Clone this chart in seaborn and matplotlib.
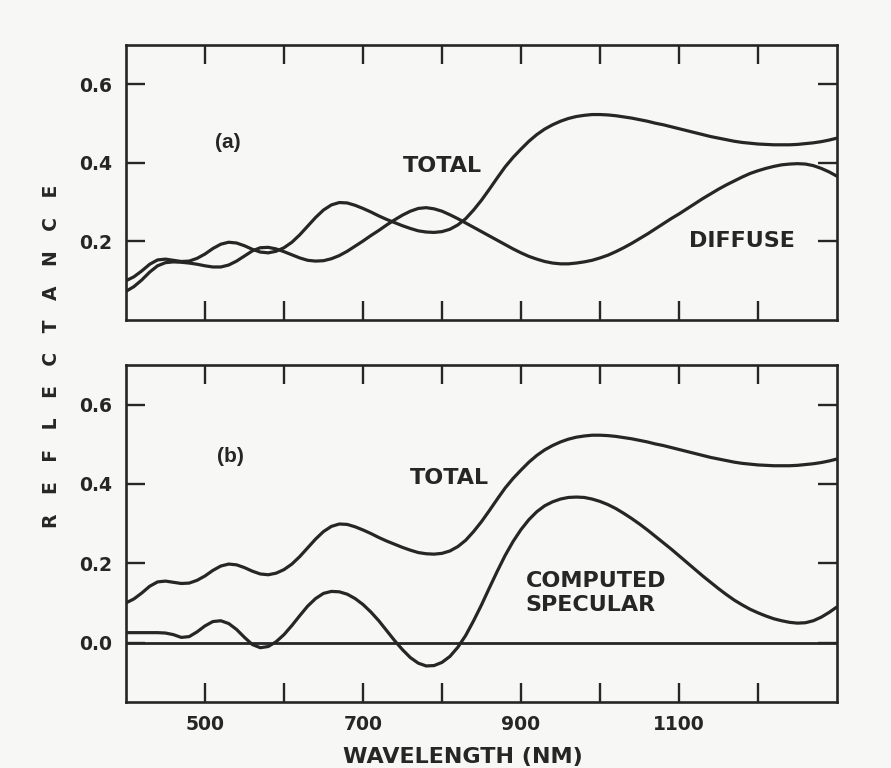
import numpy as np
import pandas as pd
import matplotlib
matplotlib.use("Agg")
import matplotlib.pyplot as plt
import seaborn as sns

# Wavelength grid (nm), 10 nm steps
wavelength = list(range(400, 1301, 10))

total = [0.100, 0.110, 0.125, 0.142, 0.153, 0.155, 0.152, 0.149, 0.150, 0.157,
         0.168, 0.182, 0.193, 0.198, 0.196, 0.189, 0.180, 0.173, 0.171, 0.175,
         0.184, 0.198, 0.217, 0.239, 0.261, 0.280, 0.293, 0.299, 0.298, 0.292,
         0.284, 0.275, 0.265, 0.256, 0.248, 0.240, 0.233, 0.227, 0.224, 0.223,
         0.225, 0.231, 0.242, 0.258, 0.280, 0.305, 0.333, 0.362, 0.390, 0.414,
         0.435, 0.455, 0.472, 0.486, 0.497, 0.506, 0.513, 0.518, 0.521, 0.523,
         0.523, 0.522, 0.520, 0.517, 0.514, 0.510, 0.506, 0.501, 0.497, 0.492,
         0.487, 0.482, 0.477, 0.472, 0.467, 0.463, 0.459, 0.455, 0.452, 0.450,
         0.448, 0.447, 0.446, 0.446, 0.446, 0.447, 0.449, 0.451, 0.454, 0.458,
         0.463]

diffuse = [0.073, 0.085, 0.102, 0.122, 0.138, 0.146, 0.148, 0.147, 0.145, 0.142,
           0.138, 0.135, 0.135, 0.140, 0.150, 0.163, 0.176, 0.184, 0.185, 0.181,
           0.174, 0.166, 0.158, 0.152, 0.150, 0.151, 0.156, 0.164, 0.175, 0.188,
           0.201, 0.215, 0.228, 0.242, 0.255, 0.267, 0.277, 0.284, 0.286, 0.283,
           0.277, 0.268, 0.258, 0.247, 0.236, 0.225, 0.214, 0.203, 0.192, 0.181,
           0.171, 0.162, 0.155, 0.149, 0.145, 0.143, 0.143, 0.145, 0.148, 0.152,
           0.158, 0.165, 0.174, 0.184, 0.195, 0.207, 0.219, 0.232, 0.245, 0.258,
           0.270, 0.283, 0.296, 0.309, 0.321, 0.333, 0.344, 0.354, 0.364, 0.373,
           0.380, 0.386, 0.391, 0.395, 0.397, 0.398, 0.397, 0.393, 0.386, 0.377,
           0.366]

specular = [0.025, 0.025, 0.025, 0.025, 0.025, 0.024, 0.020, 0.013, 0.015, 0.027,
            0.042, 0.053, 0.055, 0.048, 0.033, 0.013, -0.005, -0.013, -0.010, 0.002,
            0.020, 0.043, 0.068, 0.092, 0.111, 0.124, 0.129, 0.128, 0.122, 0.111,
            0.096, 0.077, 0.055, 0.030, 0.005, -0.018, -0.038, -0.052, -0.059, -0.058,
            -0.050, -0.035, -0.012, 0.018, 0.055, 0.095, 0.138, 0.180, 0.220, 0.255,
            0.285, 0.310, 0.330, 0.345, 0.355, 0.362, 0.366, 0.367, 0.366, 0.362,
            0.356, 0.348, 0.338, 0.326, 0.313, 0.299, 0.284, 0.268, 0.252, 0.236,
            0.219, 0.202, 0.185, 0.168, 0.152, 0.136, 0.121, 0.107, 0.095, 0.084,
            0.075, 0.067, 0.060, 0.055, 0.051, 0.049, 0.050, 0.055, 0.064, 0.076,
            0.090]

x_ticks = [500, 600, 700, 800, 900, 1000, 1100, 1200]
x_labels = ["500", "", "700", "", "900", "", "1100", ""]

paper = "#f7f7f5"
ink = "#262626"

sns.set_theme(style="ticks")
plt.rcParams["font.family"] = ["DejaVu Sans"]

df = pd.DataFrame({"wavelength": wavelength, "total": total,
                   "diffuse": diffuse, "specular": specular})

fig = plt.figure(figsize=(8.91, 7.68), dpi=100, facecolor=paper)
ax_a = fig.add_axes([0.1414, 0.5833, 0.7980, 0.3581])
ax_b = fig.add_axes([0.1414, 0.0859, 0.7980, 0.4388])

line_kw = dict(color=ink, linewidth=2.3, legend=False)

sns.lineplot(data=df, x="wavelength", y="total", ax=ax_a, **line_kw)
sns.lineplot(data=df, x="wavelength", y="diffuse", ax=ax_a, **line_kw)
sns.lineplot(data=df, x="wavelength", y="total", ax=ax_b, **line_kw)
sns.lineplot(data=df, x="wavelength", y="specular", ax=ax_b, **line_kw)
ax_b.axhline(0.0, color=ink, linewidth=2.0)

for ax in (ax_a, ax_b):
    ax.set_facecolor(paper)
    ax.set_xlim(400, 1300)
    ax.set_xticks(x_ticks)
    ax.set_xlabel("")
    ax.set_ylabel("")
    for sp in ax.spines.values():
        sp.set_visible(True)
        sp.set_color(ink)
        sp.set_linewidth(1.9)
    ax.tick_params(axis="both", direction="in", length=14, width=1.7,
                   colors=ink, top=True, right=True,
                   labeltop=False, labelright=False)
    ax.tick_params(axis="y", pad=10, labelsize=13.5)

ax_a.set_ylim(0.0, 0.70)
ax_a.set_yticks([0.2, 0.4, 0.6])
ax_a.set_yticklabels(["0.2", "0.4", "0.6"], fontweight="bold", fontsize=13.5, color=ink)
ax_a.tick_params(axis="x", labelbottom=False)

ax_b.set_ylim(-0.15, 0.70)
ax_b.set_yticks([0.0, 0.2, 0.4, 0.6])
ax_b.set_yticklabels(["0.0", "0.2", "0.4", "0.6"], fontweight="bold", fontsize=13.5, color=ink)
ax_b.set_xticklabels(x_labels, fontweight="bold", fontsize=13.5, color=ink)
ax_b.tick_params(axis="x", pad=9)

txt = dict(color=ink, fontweight="bold", ha="center", va="center")
ax_a.text(529, 0.453, "(a)", fontsize=15, family="Liberation Sans", **txt)
ax_a.text(800, 0.392, "TOTAL", fontsize=16, **txt)
ax_a.text(1180, 0.200, "DIFFUSE", fontsize=16, **txt)

ax_b.text(532, 0.470, "(b)", fontsize=15, family="Liberation Sans", **txt)
ax_b.text(809, 0.415, "TOTAL", fontsize=16, **txt)
ax_b.text(906, 0.125, "COMPUTED\nSPECULAR", fontsize=16, color=ink,
          fontweight="bold", ha="left", va="center", linespacing=1.25)

fig.text(0.519, 0.0143, "WAVELENGTH (NM)", fontsize=16, fontweight="bold",
         color=ink, ha="center", va="center")
fig.text(0.058, 0.536, "R   E   F   L   E   C   T   A   N   C   E", fontsize=13.5,
         fontweight="bold", color=ink, rotation=90, ha="center", va="center")

fig.savefig("out.png", dpi=100, facecolor=paper)
